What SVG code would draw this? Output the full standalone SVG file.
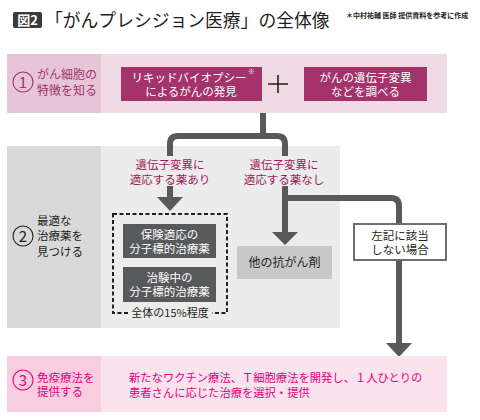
<svg xmlns="http://www.w3.org/2000/svg" width="480" height="420" viewBox="0 0 480 420">
<style>
text{font-family:"Noto Sans CJK JP","Noto Sans CJK SC",sans-serif;}
.c{text-anchor:middle;}
.s1{fill:#a3336a;font-size:12px;}
.wt{fill:#ffffff;font-size:11.5px;}
.dk{fill:#231f20;font-size:11.5px;}
.lab{fill:#9b1b5b;font-size:11.5px;}
.s3{fill:#e4007f;font-size:11.5px;}
.s3m{fill:#e4007f;font-size:11.3px;}
.conn{fill:none;stroke:#58595b;stroke-width:6;}
.head{fill:#58595b;}
</style>
<rect width="480" height="420" fill="#ffffff"/>
<g id="title">
<rect x="13" y="12" width="29" height="16" rx="2" fill="#3a3a3a"/>
<text x="27.5" y="25" class="c" style="fill:#fff;font-size:13px;font-weight:bold">図2</text>
<text x="45" y="27" style="fill:#231f20;font-size:17.8px">「がんプレシジョン医療」の全体像</text>
<text x="346" y="18" style="fill:#231f20;font-size:7px;font-weight:bold">＊中村祐輔 医師 提供資料を参考に作成</text>
</g>
<g id="section1">
<rect x="7" y="54" width="440" height="59" fill="#f0dae3"/>
<rect x="7" y="54" width="94" height="59" fill="#e5c5d6"/>
<circle cx="23" cy="82" r="10" fill="none" stroke="#a3336a" stroke-width="1.1"/>
<text x="23" y="87.5" class="c" style="fill:#a3336a;font-size:15px">1</text>
<text x="37" y="79" class="s1">がん細胞の</text>
<text x="37" y="95" class="s1">特徴を知る</text>
</g>
<g id="liquid-biopsy">
<rect x="121" y="67" width="141" height="34" fill="#a3336a"/>
<text x="189" y="81.5" class="wt c">リキッドバイオプシー</text>
<text x="248" y="74" style="fill:#fff;font-size:6.5px">※</text>
<text x="191" y="95.5" class="wt c">によるがんの発見</text>
</g>
<g id="plus">
<path d="M268 84H288M278 75V93" stroke="#231f20" stroke-width="1.6" fill="none"/>
</g>
<g id="gene-test">
<rect x="304" y="67" width="123" height="34" fill="#a3336a"/>
<text x="365.5" y="81.5" class="wt c">がんの遺伝子変異</text>
<text x="365.5" y="95.5" class="wt c">などを調べる</text>
</g>
<g id="section2">
<rect x="7" y="146" width="333" height="182" fill="#ececec"/>
<rect x="7" y="146" width="94" height="182" fill="#d9d9d9"/>
<circle cx="23" cy="236" r="10" fill="none" stroke="#231f20" stroke-width="1.1"/>
<text x="23" y="241.5" class="c" style="fill:#231f20;font-size:15px">2</text>
<text x="37" y="224.5" class="dk">最適な</text>
<text x="37" y="240" class="dk">治療薬を</text>
<text x="37" y="255.5" class="dk">見つける</text>
</g>
<g id="connectors">
<path class="conn" d="M263 113V136"/>
<path class="conn" d="M170 156V144Q170 136 178 136H277Q285 136 285 144V156"/>
<path class="conn" d="M170 186V199"/>
<path class="head" d="M157 197H183L170 211Z"/>
<path class="conn" d="M285 186V233"/>
<path class="head" d="M272 232H298L285 245Z"/>
<path class="conn" d="M285 198H391Q399 198 399 206V344"/>
<path class="head" d="M386 343H412L399 357Z"/>
</g>
<g id="label-yes">
<text x="170" y="169" class="lab c">遺伝子変異に</text>
<text x="170" y="183.5" class="lab c">適応する薬あり</text>
</g>
<g id="label-no">
<text x="284" y="169" class="lab c">遺伝子変異に</text>
<text x="284" y="183.5" class="lab c">適応する薬なし</text>
</g>
<g id="targeted-group">
<rect x="113" y="214" width="114" height="99" fill="none" stroke="#231f20" stroke-width="2" stroke-dasharray="4 2.5"/>
<rect x="128" y="306" width="84" height="14" fill="#ececec"/>
<text x="170" y="317" class="c" style="fill:#231f20;font-size:11px">全体の15%程度</text>
</g>
<g id="approved-drug">
<rect x="123" y="224" width="93" height="34" fill="#58595b"/>
<text x="169.5" y="238.5" class="wt c">保険適応の</text>
<text x="169.5" y="252.5" class="wt c">分子標的治療薬</text>
</g>
<g id="trial-drug">
<rect x="123" y="267" width="93" height="35" fill="#58595b"/>
<text x="169.5" y="281.5" class="wt c">治験中の</text>
<text x="169.5" y="296" class="wt c">分子標的治療薬</text>
</g>
<g id="other-drug">
<rect x="237" y="246" width="95" height="33" fill="#c8c8c8"/>
<text x="284.5" y="267" class="dk c" style="font-size:12px">他の抗がん剤</text>
</g>
<g id="not-applicable">
<rect x="354" y="224" width="92" height="36" fill="#ffffff" stroke="#6d6e70" stroke-width="2"/>
<text x="400" y="240" class="dk c">左記に該当</text>
<text x="400" y="254" class="dk c">しない場合</text>
</g>
<g id="section3">
<rect x="7" y="356" width="440" height="56" fill="#fbe3ed"/>
<rect x="7" y="356" width="94" height="56" fill="#f8cde0"/>
<circle cx="23" cy="380" r="10" fill="none" stroke="#e4007f" stroke-width="1.1"/>
<text x="23" y="385.5" class="c" style="fill:#e4007f;font-size:15px">3</text>
<text x="37" y="382" class="s3">免疫療法を</text>
<text x="37" y="396" class="s3">提供する</text>
<text x="129" y="382" class="s3m">新たなワクチン療法、Ｔ細胞療法を開発し、１人ひとりの</text>
<text x="129" y="397" class="s3m">患者さんに応じた治療を選択・提供</text>
</g>
</svg>
